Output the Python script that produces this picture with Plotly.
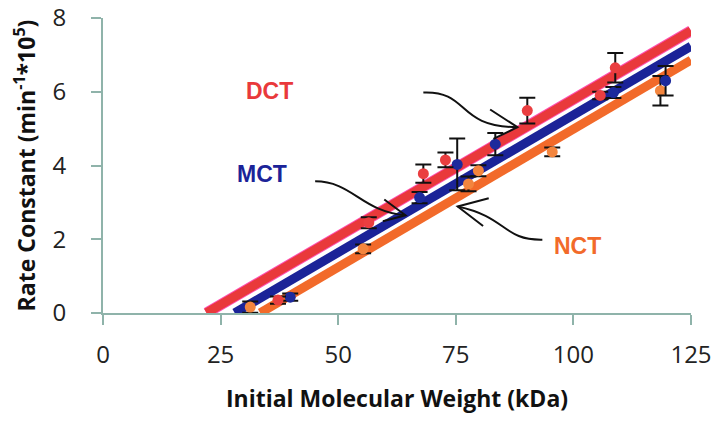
import plotly.graph_objects as go

# measured rate constants (min^-1 * 10^5) vs initial molecular weight (kDa)
dct_x = [37.2, 56.5, 68.1, 72.8, 90.2, 105.7, 108.9]
dct_y = [0.35, 2.45, 3.78, 4.15, 5.49, 5.90, 6.65]
dct_err = [0.10, 0.15, 0.25, 0.20, 0.35, 0.10, 0.40]

mct_x = [39.8, 67.3, 75.3, 83.4, 108.5, 119.6]
mct_y = [0.43, 3.13, 4.03, 4.58, 5.98, 6.30]
mct_err = [0.10, 0.15, 0.70, 0.30, 0.15, 0.40]

nct_x = [31.3, 55.3, 77.7, 79.8, 95.5, 118.5]
nct_y = [0.16, 1.74, 3.50, 3.86, 4.37, 6.03]
nct_err = [0.15, 0.12, 0.20, 0.15, 0.12, 0.40]

# linear trendlines: slope and intercept, drawn from y = 0 up to x_end
fit_slope = {"DCT": 0.0743, "MCT": 0.0746, "NCT": 0.0749}
fit_intercept = {"DCT": -1.635, "MCT": -2.089, "NCT": -2.502}
x_end = 125

x_ticks = [0, 25, 50, 75, 100, 125]
y_ticks = [0, 2, 4, 6, 8]

red = "#e9393b"
blue = "#1b2398"
orange = "#f26a2a"

fig = go.Figure()

def trend(name, color, width, edge=None):
    m = fit_slope[name]
    c = fit_intercept[name]
    xs = [-c / m, x_end]
    ys = [m * x + c for x in xs]
    if edge:
        fig.add_trace(go.Scatter(x=xs, y=ys, mode="lines", cliponaxis=False,
                                 line=dict(color=edge, width=width + 2), hoverinfo="skip"))
    fig.add_trace(go.Scatter(x=xs, y=ys, mode="lines", cliponaxis=False,
                             line=dict(color=color, width=width), hoverinfo="skip"))

trend("DCT", red, 9, edge="#ff4fb0")
trend("NCT", orange, 9)
trend("MCT", blue, 9)

def points(xs, ys, err, color):
    fig.add_trace(go.Scatter(
        x=xs, y=ys, mode="markers", cliponaxis=False,
        marker=dict(color=color, size=11),
        error_y=dict(type="data", array=err, color="#111111", thickness=2, width=8),
    ))

points(nct_x, nct_y, nct_err, "#f3853e")
points(mct_x, mct_y, mct_err, "#1d2a9c")
points(dct_x, dct_y, dct_err, "#ea3e40")

label_font = dict(family="Liberation Sans, Arial", size=23)
fig.add_annotation(x=35.5, y=6.03, text="<b>DCT</b>", showarrow=False,
                   font=dict(color=red, **label_font))
fig.add_annotation(x=33.8, y=3.78, text="<b>MCT</b>", showarrow=False,
                   font=dict(color=blue, **label_font))
fig.add_annotation(x=100.8, y=1.82, text="<b>NCT</b>", showarrow=False,
                   font=dict(color=orange, **label_font))

# hand-drawn style curved arrows
arrow = dict(type="path", xref="x", yref="y", line=dict(color="#111111", width=2))
shapes = [
    dict(arrow, path="M 68.1 5.98 C 78 6.03, 75 5.04, 88.1 5.04"),
    dict(arrow, path="M 82.3 5.52 L 88.1 5.04 L 83.0 4.72"),
    dict(arrow, path="M 45.1 3.57 C 53 3.57, 55 2.75, 64.3 2.65"),
    dict(arrow, path="M 59.8 3.08 L 64.3 2.65 L 59.5 2.49"),
    dict(arrow, path="M 93.4 1.99 C 85 1.97, 86 2.60, 75.4 2.89"),
    dict(arrow, path="M 82.0 3.11 L 75.4 2.89 L 80.8 2.36"),
]

axis_col = "#8fb3aa"
tick_font = dict(family="Open Sans, DejaVu Sans", size=24, color="#222222")
title_font = dict(family="Open Sans, DejaVu Sans", size=23, color="#111111")

# page body adds an 8px margin, so the figure is 8px smaller and shifted
fig.update_layout(
    width=712, height=413,
    margin=dict(l=95, r=29, t=10, b=108, autoexpand=False),
    paper_bgcolor="white", plot_bgcolor="white",
    showlegend=False,
    shapes=shapes,
    xaxis=dict(range=[0, 125.001], tickvals=x_ticks, automargin=False,
               showgrid=False, zeroline=False, showline=True, linecolor=axis_col,
               linewidth=2, ticks="outside", ticklen=10, tickcolor=axis_col, tickwidth=2,
               tickfont=tick_font, ticklabelstandoff=9, ticklabeloverflow="allow",
               title=dict(text="<b>Initial Molecular Weight (kDa)</b>", font=title_font,
                          standoff=22)),
    yaxis=dict(range=[0, 8.001], tickvals=y_ticks, automargin=False,
               showgrid=False, zeroline=False, showline=True, linecolor=axis_col,
               linewidth=2, ticks="outside", ticklen=10, tickcolor=axis_col, tickwidth=2,
               tickfont=tick_font, ticklabelstandoff=20, ticklabeloverflow="allow",
               title=dict(text="<b>Rate Constant (min<sup>-1</sup>*10<sup>5</sup>)</b>",
                          font=title_font, standoff=12)),
)

fig.write_html("out.html")
